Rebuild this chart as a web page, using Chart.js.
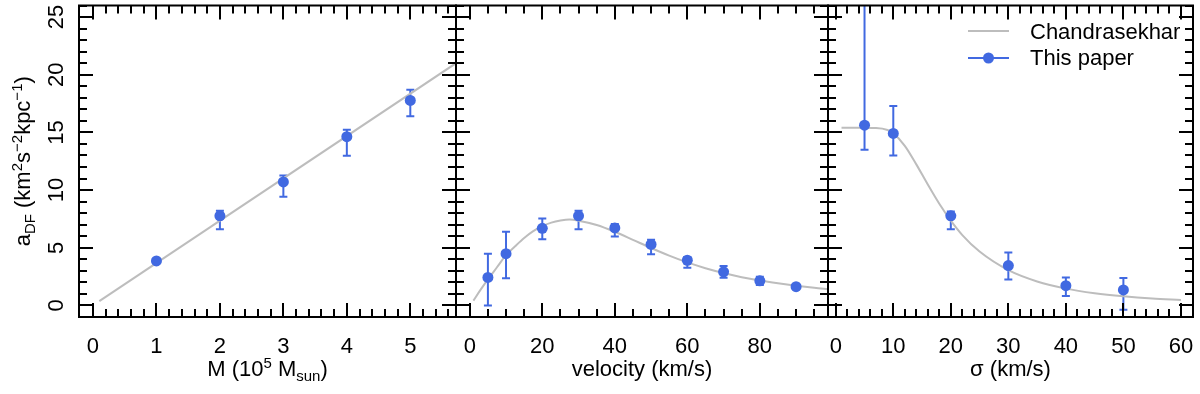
<!DOCTYPE html>
<html><head><meta charset="utf-8">
<script src="https://cdn.jsdelivr.net/npm/chart.js@4/dist/chart.umd.min.js"></script>
<style>
html,body{margin:0;padding:0;background:#fff;overflow:hidden}
#wrap{position:relative;width:1200px;height:394px;background:#fff}
canvas{position:absolute;left:0;top:0}
</style></head><body><div id="wrap">
<canvas id="c1" width="1200" height="394"></canvas>
<canvas id="c2" width="1200" height="394"></canvas>
<canvas id="c3" width="1200" height="394"></canvas>
</div>
<script>
// ---------- data ----------
// Panel 1: a_DF vs mass
const massX    = [1, 2, 3, 4, 5];
const massY    = [3.86, 7.77, 10.71, 14.63, 17.77];
const massLo   = [3.75, 6.6, 9.43, 12.97, 16.4];
const massHi   = [3.95, 8.2, 11.26, 15.23, 18.69];
const massCurveX = [0.1, 5.72];
const massCurveY = [0.37, 21.0];

// Panel 2: a_DF vs velocity
const velX   = [5, 10, 20, 30, 40, 50, 60, 70, 80, 90];
const velY   = [2.43, 4.49, 6.69, 7.77, 6.72, 5.29, 3.92, 2.92, 2.14, 1.63];
const velLo  = [0.0, 2.35, 5.74, 6.6, 5.97, 4.43, 3.26, 2.4, 1.77, 1.52];
const velHi  = [4.49, 6.4, 7.54, 8.2, 7.06, 5.69, 4.2, 3.43, 2.49, 1.74];
const velCurveX = [1, 3, 5, 7.5, 10, 12.5, 15, 17.5, 20, 22.5, 25, 27.5, 30, 35, 40, 45, 50, 55, 60, 65, 70, 75, 80, 85, 90, 95, 99];
const velCurveY = [0.42, 1.37, 2.26, 3.31, 4.36, 5.13, 5.85, 6.44, 6.88, 7.18, 7.36, 7.45, 7.35, 6.98, 6.39, 5.69, 4.98, 4.32, 3.73, 3.23, 2.81, 2.45, 2.16, 1.92, 1.71, 1.53, 1.41];

// Panel 3: a_DF vs sigma
const sigX   = [5, 10, 20, 30, 40, 50];
const sigY   = [15.63, 14.91, 7.77, 3.46, 1.71, 1.35];
const sigLo  = [13.49, 13.0, 6.6, 2.26, 0.83, -0.37];
const sigHi  = [40, 17.28, 8.14, 4.6, 2.43, 2.37];
const sigCurveX = [1, 4, 7, 9, 10, 12, 14, 16, 18, 20, 22, 25, 30, 35, 40, 45, 50, 55, 60];
const sigCurveY = [15.4, 15.4, 15.38, 15.21, 14.93, 13.84, 12.23, 10.48, 8.81, 7.35, 6.1, 4.67, 3.06, 2.08, 1.46, 1.06, 0.79, 0.6, 0.48];

// ticks
const yTicks = [0, 5, 10, 15, 20, 25];
const massTicks = [0, 1, 2, 3, 4, 5];
const velTicks  = [0, 20, 40, 60, 80];
const sigTicks  = [0, 10, 20, 30, 40, 50, 60];

// ---------- style ----------
const BLUE = '#4169E1';
const GRAY = '#bdbdbd';
const FONT = '"Liberation Sans", Arial, Helvetica, sans-serif';
const FS = 22, SFS = 15;
const TOP = 3, BOTTOM = 317;
const MAJ = 14, MIN = 8;

function pts(xs, ys){ return xs.map((x,i)=>({x:x, y:ys[i]})); }

function richWidth(ctx, parts){
  let w = 0;
  parts.forEach(p=>{ ctx.font = (p.s||FS)+'px '+FONT; w += ctx.measureText(p.t).width; });
  return w;
}
function drawRich(ctx, parts, cx, by){
  const w = richWidth(ctx, parts);
  let x = cx - w/2;
  ctx.textAlign = 'left'; ctx.textBaseline = 'alphabetic';
  parts.forEach(p=>{
    ctx.font = (p.s||FS)+'px '+FONT;
    ctx.fillText(p.t, x, by + (p.dy||0));
    x += ctx.measureText(p.t).width;
  });
}

function panelPlugin(cfg){
  return {
    id: 'panel_'+cfg.id,
    beforeDatasetsDraw(chart){
      const ctx = chart.ctx, xs = chart.scales.x, ys = chart.scales.y, a = chart.chartArea;
      ctx.save();
      ctx.beginPath(); ctx.rect(a.left, a.top, a.right-a.left, a.bottom-a.top); ctx.clip();
      ctx.strokeStyle = BLUE; ctx.lineWidth = 2;
      cfg.ex.forEach((x,i)=>{
        const px = xs.getPixelForValue(x);
        const p1 = ys.getPixelForValue(cfg.lo[i]), p2 = ys.getPixelForValue(cfg.hi[i]);
        ctx.beginPath(); ctx.moveTo(px, p1); ctx.lineTo(px, p2);
        ctx.moveTo(px-4, p1); ctx.lineTo(px+4, p1);
        ctx.moveTo(px-4, p2); ctx.lineTo(px+4, p2);
        ctx.stroke();
      });
      ctx.restore();
    },
    afterDraw(chart){
      const ctx = chart.ctx, xs = chart.scales.x, ys = chart.scales.y, a = chart.chartArea;
      ctx.save();
      ctx.strokeStyle = '#000'; ctx.lineWidth = 2; ctx.lineCap = 'butt';
      // frame
      ctx.strokeRect(a.left, a.top, a.right-a.left, a.bottom-a.top);
      ctx.beginPath();
      // y ticks (minor every 1, major at yTicks)
      for (let v = -1; v <= 26; v += 1){
        const py = Math.round(ys.getPixelForValue(v));
        if (py < a.top || py > a.bottom) continue;
        const L = yTicks.includes(v) ? MAJ : MIN;
        ctx.moveTo(a.left, py); ctx.lineTo(a.left+L, py);
        ctx.moveTo(a.right, py); ctx.lineTo(a.right-L, py);
      }
      // x ticks
      const start = Math.ceil(xs.min/cfg.minor)*cfg.minor;
      for (let k = 0; ; k++){
        const v = +(start + k*cfg.minor).toFixed(6);
        if (v > xs.max) break;
        const px = Math.round(xs.getPixelForValue(v));
        if (px <= a.left+1 || px >= a.right-1) continue;
        const L = cfg.ticks.some(t=>Math.abs(t-v)<1e-6) ? MAJ : MIN;
        ctx.moveTo(px, a.bottom); ctx.lineTo(px, a.bottom-L);
        ctx.moveTo(px, a.top); ctx.lineTo(px, a.top+L);
      }
      ctx.stroke();
      // x tick labels
      ctx.fillStyle = '#000';
      ctx.font = FS+'px '+FONT; ctx.textAlign = 'center'; ctx.textBaseline = 'alphabetic';
      cfg.ticks.forEach(t=>{ ctx.fillText(String(t), xs.getPixelForValue(t), 353); });
      // x title
      drawRich(ctx, cfg.title, (a.left+a.right)/2, 376);
      // y axis labels (panel 1 only)
      if (cfg.yLabels){
        yTicks.forEach(t=>{
          ctx.save();
          ctx.translate(63, ys.getPixelForValue(t));
          ctx.rotate(-Math.PI/2);
          ctx.font = FS+'px '+FONT; ctx.textAlign='center'; ctx.textBaseline='alphabetic';
          ctx.fillText(String(t), 0, 0);
          ctx.restore();
        });
        ctx.save();
        ctx.translate(30, (a.top+a.bottom)/2);
        ctx.rotate(-Math.PI/2);
        drawRich(ctx, [
          {t:'a'}, {t:'DF', s:SFS, dy:5}, {t:' (km'}, {t:'2', s:SFS, dy:-8}, {t:'s'},
          {t:'\u22122', s:SFS, dy:-8}, {t:'kpc'}, {t:'\u22121', s:SFS, dy:-8}, {t:')'}
        ], 0, 0);
        ctx.restore();
      }
      // legend (panel 3)
      if (cfg.legend){
        ctx.lineWidth = 2;
        ctx.strokeStyle = GRAY;
        ctx.beginPath(); ctx.moveTo(968, 31); ctx.lineTo(1009, 31); ctx.stroke();
        ctx.strokeStyle = BLUE;
        ctx.beginPath(); ctx.moveTo(968, 58); ctx.lineTo(1009, 58); ctx.stroke();
        ctx.fillStyle = BLUE;
        ctx.beginPath(); ctx.arc(988.5, 58, 5.5, 0, Math.PI*2); ctx.fill();
        ctx.fillStyle = '#000';
        ctx.font = FS+'px '+FONT; ctx.textAlign='left'; ctx.textBaseline='alphabetic';
        ctx.fillText('Chandrasekhar', 1030, 39);
        ctx.fillText('This paper', 1030, 65);
      }
      ctx.restore();
    }
  };
}

function makePanel(id, left, right, xMin, xMax, cx, cy, curX, curY, lo, hi, tension, cfg){
  cfg.id = id; cfg.ex = cx; cfg.lo = lo; cfg.hi = hi;
  return new Chart(document.getElementById(id), {
    type: 'scatter',
    data: { datasets: [
      { label:'This paper', data: pts(cx, cy), showLine:false, pointRadius:5.5, pointHoverRadius:5.5,
        backgroundColor: BLUE, borderColor: BLUE, borderWidth: 0 },
      { label:'Chandrasekhar', data: pts(curX, curY), showLine:true, pointRadius:0, borderColor: GRAY,
        borderWidth: 2, fill:false, cubicInterpolationMode: tension ? 'monotone' : 'default', tension: 0 }
    ]},
    options: {
      responsive:false, animation:false, devicePixelRatio:1, events:[],
      layout:{ padding:{ left:left, right:1200-right, top:TOP, bottom:394-BOTTOM } },
      plugins:{ legend:{display:false}, tooltip:{enabled:false} },
      scales:{
        x:{ type:'linear', min:xMin, max:xMax, display:false },
        y:{ type:'linear', min:-1, max:26, display:false }
      }
    },
    plugins:[ panelPlugin(cfg) ]
  });
}

makePanel('c1', 79, 456, -0.22, 5.72, massX, massY, massCurveX, massCurveY, massLo, massHi, false,
  { ticks: massTicks, minor: 0.2, yLabels: true,
    title: [{t:'M (10'}, {t:'5', s:SFS, dy:-8}, {t:' M'}, {t:'sun', s:SFS, dy:5}, {t:')'}] });
makePanel('c2', 456, 828, -3.8, 98.8, velX, velY, velCurveX, velCurveY, velLo, velHi, true,
  { ticks: velTicks, minor: 5, title: [{t:'velocity (km/s)'}] });
makePanel('c3', 828, 1193, -1.35, 62.1, sigX, sigY, sigCurveX, sigCurveY, sigLo, sigHi, true,
  { ticks: sigTicks, minor: 2, legend: true, title: [{t:'\u03C3 (km/s)'}] });
</script>
</body></html>
